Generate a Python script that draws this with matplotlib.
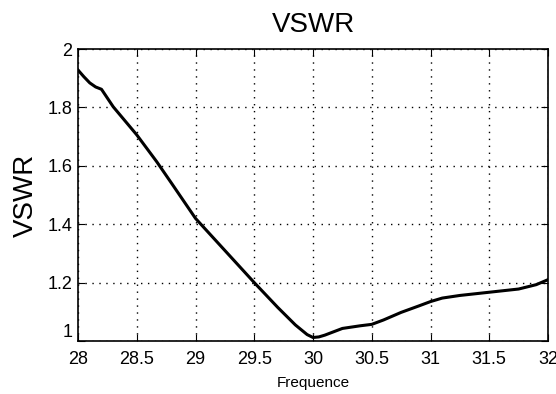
import matplotlib.pyplot as plt
import numpy as np

### values
freq = [28.0, 28.05, 28.1, 28.15, 28.2, 28.25, 28.3, 28.4, 28.5, 28.67, 28.8, 29.0,
        29.25, 29.5, 29.7, 29.85, 29.95, 30.0, 30.05, 30.1, 30.25, 30.4, 30.5, 30.6,
        30.75, 30.9, 31.0, 31.1, 31.25, 31.5, 31.75, 31.9, 32.0]
vswr = [1.928, 1.905, 1.884, 1.870, 1.862, 1.832, 1.802, 1.754, 1.706, 1.614, 1.538, 1.420,
        1.310, 1.200, 1.115, 1.055, 1.022, 1.012, 1.014, 1.020, 1.043, 1.052, 1.057, 1.072,
        1.098, 1.120, 1.135, 1.147, 1.156, 1.167, 1.178, 1.193, 1.210]

xticks = [28, 28.5, 29, 29.5, 30, 30.5, 31, 31.5, 32]
xticklabels = ['28', '28.5', '29', '29.5', '30', '30.5', '31', '31.5', '32']
yticks = [1, 1.2, 1.4, 1.6, 1.8, 2]
yticklabels = ['1', '1.2', '1.4', '1.6', '1.8', '2']

plt.rcParams['font.family'] = ['Liberation Sans', 'DejaVu Sans']

fig = plt.figure(figsize=(5.56, 3.94), dpi=100)
ax = fig.add_axes([78 / 556, 1 - 341 / 394, 470 / 556, 292 / 394])

ax.plot(freq, vswr, color='black', linewidth=2.2)

ax.set_xlim(28, 32)
ax.set_ylim(1, 2)
ax.set_xticks(xticks)
ax.set_xticklabels(xticklabels)
ax.set_yticks(yticks)
ax.set_yticklabels(yticklabels)
ax.grid(True, linestyle=(0, (1, 4)), color='black', linewidth=1.0)
ax.tick_params(direction='in', top=True, right=True, length=5, labelsize=13)
ax.tick_params(axis='x', pad=7)
ax.tick_params(axis='y', pad=4)
# the bottom "1" sits a little above the axis line, as in the reference
ax.get_yticklabels()[0].set_verticalalignment('bottom')
for s in ax.spines.values():
    s.set_linewidth(1.2)

ax.set_title('VSWR', fontsize=20, pad=12)
ax.set_ylabel('VSWR', fontsize=20, labelpad=6)
ax.set_xlabel('Frequence', fontsize=11, labelpad=6)

fig.savefig('out.png', dpi=100)
